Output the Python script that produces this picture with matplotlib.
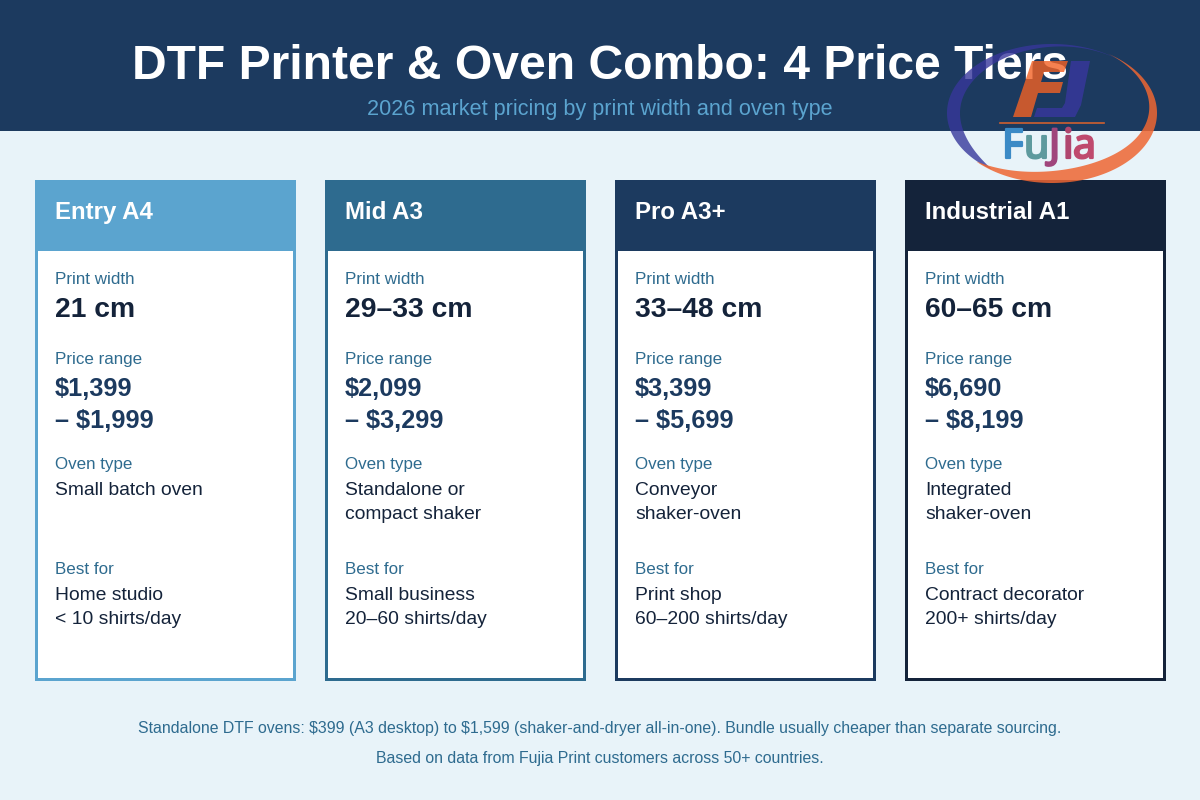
#!/usr/bin/env python3
"""DTF printer and oven price tiers, drawn as an infographic in pixel coordinates."""
import numpy as np
import matplotlib
matplotlib.use("Agg")
import matplotlib.pyplot as plt
import matplotlib.patheffects as pe
from matplotlib.patches import Rectangle, Polygon

plt.rcParams["font.family"] = ["Liberation Sans", "DejaVu Sans"]
plt.rcParams["text.parse_math"] = False

tiers = ["Entry A4", "Mid A3", "Pro A3+", "Industrial A1"]
widths = ["21 cm", "29–33 cm", "33–48 cm", "60–65 cm"]
price_low = ["$1,399", "$2,099", "$3,399", "$6,690"]
price_high = ["– $1,999", "– $3,299", "– $5,699", "– $8,199"]
oven = [["Small batch oven"], ["Standalone or", "compact shaker"],
        ["Conveyor", "shaker-oven"], ["Integrated", "shaker-oven"]]
best = [["Home studio", "< 10 shirts/day"], ["Small business", "20–60 shirts/day"],
        ["Print shop", "60–200 shirts/day"], ["Contract decorator", "200+ shirts/day"]]
title = "DTF Printer & Oven Combo: 4 Price Tiers"
subtitle = "2026 market pricing by print width and oven type"
footer = ["Standalone DTF ovens: $399 (A3 desktop) to $1,599 (shaker-and-dryer all-in-one). "
          "Bundle usually cheaper than separate sourcing.",
          "Based on data from Fujia Print customers across 50+ countries."]

BG = "#e8f3f9"
NAVY = "#1c3a5f"
TEAL = "#2e6b8f"
INK = "#14233a"
tier_colors = ["#5ba4cf", TEAL, NAVY, "#14233a"]


def px(size):
    """Font size in points for a size given in pixels at dpi 100."""
    return size * 72 / 100


def crescent(cx, cy, a, b, t0, t1, thick, skew):
    """Ellipse arc that swells from nothing at both ends; skew moves the widest part."""
    t = np.radians(np.linspace(t0, t1, 160))
    u = np.linspace(0, 1, t.size) ** skew
    grow = thick * np.sin(np.pi * u) ** 0.9
    out = np.c_[cx + a * np.cos(t), cy + b * np.sin(t)]
    inn = np.c_[cx + (a - grow) * np.cos(t), cy + (b - grow) * np.sin(t)]
    return np.r_[out, inn[::-1]]


fig = plt.figure(figsize=(12, 8), dpi=100, facecolor=BG)
ax = fig.add_axes([0, 0, 1, 1])
ax.set_xlim(0, 1200)
ax.set_ylim(800, 0)
ax.axis("off")

# header band
ax.add_patch(Rectangle((0, 0), 1200, 131, fc=NAVY, lw=0))
ax.text(600, 79, title, ha="center", va="baseline", color="white",
        fontsize=px(48), fontweight="bold")
ax.text(600, 115, subtitle, ha="center", va="baseline", color="#5ba4cf", fontsize=px(21.7))

# cards
for i, name in enumerate(tiers):
    x = 35 + 290 * i
    col = tier_colors[i]
    tx = x + 20
    ax.add_patch(Rectangle((x, 180), 261, 501, fc=col, lw=0))
    ax.add_patch(Rectangle((x + 3, 251), 255, 427, fc="white", lw=0))
    ax.text(tx, 219, name, color="white", fontsize=px(24), fontweight="bold", va="baseline")

    ax.text(tx, 284, "Print width", color=TEAL, fontsize=px(17), va="baseline")
    ax.text(tx, 317, widths[i], color=INK, fontsize=px(28.3), fontweight="bold", va="baseline")

    ax.text(tx, 364, "Price range", color=TEAL, fontsize=px(17), va="baseline")
    ax.text(tx, 396, price_low[i], color=NAVY, fontsize=px(25.2), fontweight="bold", va="baseline")
    ax.text(tx, 428, price_high[i], color=NAVY, fontsize=px(25.2), fontweight="bold", va="baseline")

    ax.text(tx, 469, "Oven type", color=TEAL, fontsize=px(17), va="baseline")
    for j, line in enumerate(oven[i]):
        ax.text(tx, 495 + 24 * j, line, color=INK, fontsize=px(19.3), va="baseline")

    ax.text(tx, 574, "Best for", color=TEAL, fontsize=px(17), va="baseline")
    for j, line in enumerate(best[i]):
        ax.text(tx, 600 + 24 * j, line, color=INK, fontsize=px(19.3), va="baseline")

# footer
ax.text(600, 733, footer[0], ha="center", va="baseline", color=TEAL, fontsize=px(15.95))
ax.text(600, 763, footer[1], ha="center", va="baseline", color=TEAL, fontsize=px(15.95))

# watermark logo, semi-transparent over the title and the band
ax.add_patch(Polygon(crescent(1052, 113, 105, 69, 315, 125, 13, 2.0),
                     fc="#37379b", alpha=0.8, lw=0, zorder=5))
ax.add_patch(Polygon(crescent(1052, 113, 105, 70, -58, 136, 14, 1.4),
                     fc="#ef6632", alpha=0.85, lw=0, zorder=6))
ax.add_patch(Polygon([(1071, 61), (1090, 61), (1081, 105), (1075, 117), (1034, 117),
                      (1037, 108), (1062, 108), (1065, 103)],
                     fc="#37379b", alpha=0.85, lw=0, zorder=6))
ax.add_patch(Polygon([(1032, 61), (1068, 61), (1064, 72), (1044, 72), (1041, 82),
                      (1063, 82), (1060, 93), (1038, 93), (1031, 117), (1013, 117)],
                     fc="#f36224", alpha=0.8, lw=0, zorder=7))
ax.plot([1000, 1104], [123, 123], color="#d0602f", lw=1.2, zorder=7)
logo_letters = ["F", "u", "J", "i", "a"]
logo_x = [1002, 1024, 1049, 1063, 1073]
logo_colors = ["#3b8ac6", "#5e9a9e", "#a0457c", "#b0466f", "#bf4a6e"]
for ch, lx, lc in zip(logo_letters, logo_x, logo_colors):
    ax.text(lx, 158, ch, color=lc, fontsize=px(41), family="Noto Sans", va="baseline",
            zorder=7, path_effects=[pe.withStroke(linewidth=1.6, foreground=lc)])

fig.savefig("out.png", dpi=100, facecolor=BG)
